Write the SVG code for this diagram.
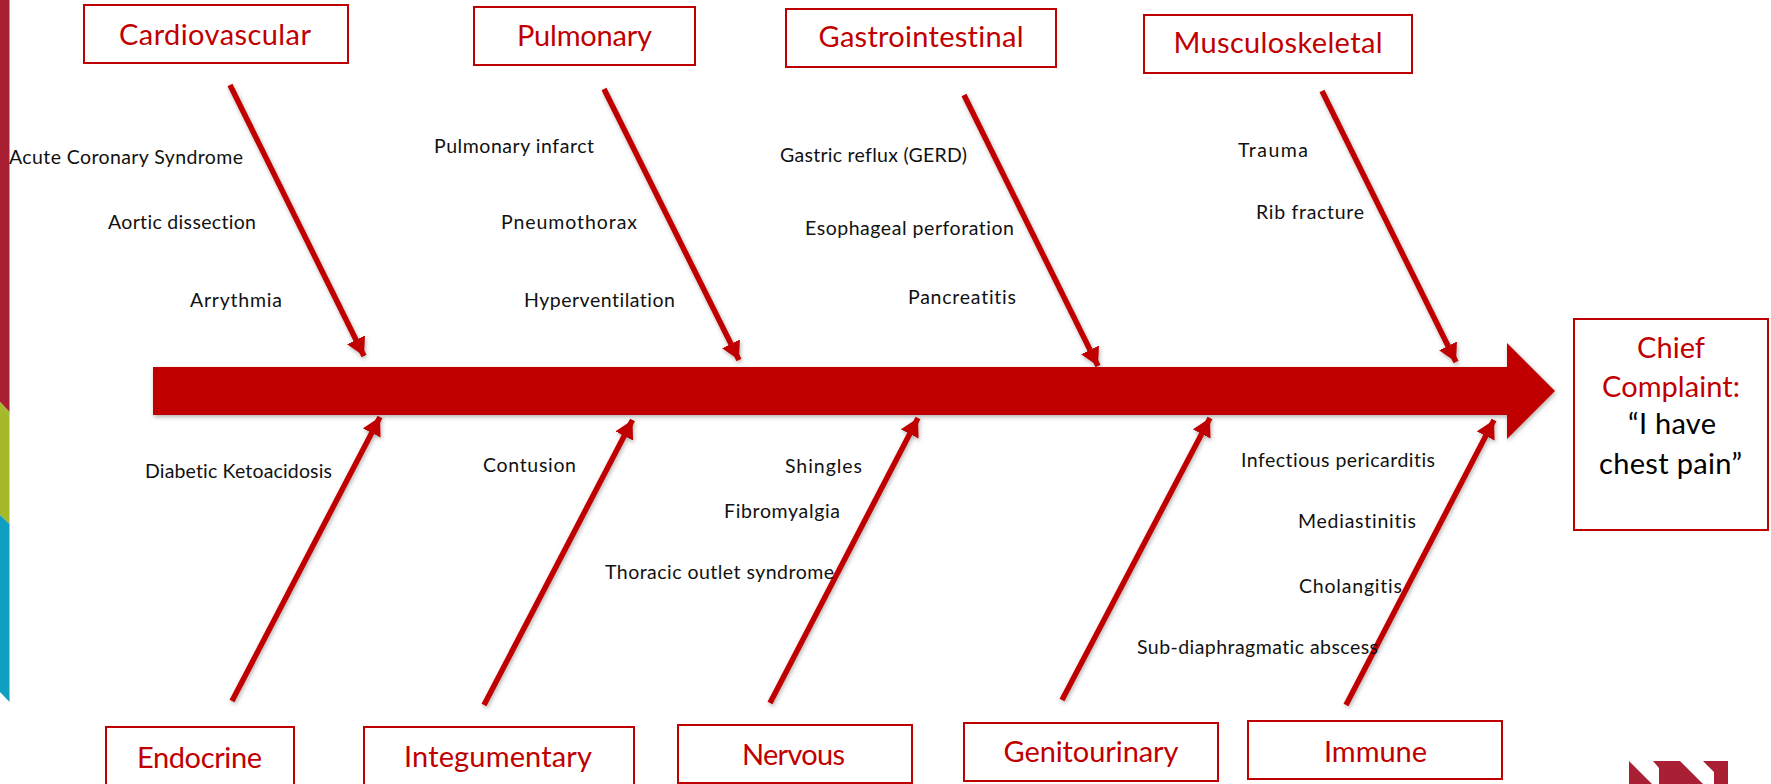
<svg xmlns="http://www.w3.org/2000/svg" width="1771" height="784" viewBox="0 0 1771 784">
<style>
.box{fill:#fff;stroke:#c00000;stroke-width:2}
.h{font-family:"Lato","Liberation Sans",sans-serif;font-size:29px;fill:#c00000;text-anchor:middle;font-variant-ligatures:none}
.b{fill:#000}
.t{font-family:"Lato","Liberation Sans",sans-serif;font-size:19.5px;fill:#111;font-variant-ligatures:none}
.c{stroke:#c00000;stroke-width:5.5;fill:none;marker-end:url(#ah)}
</style>
<defs>
<marker id="ah" markerUnits="userSpaceOnUse" markerWidth="24" markerHeight="24" refX="18" refY="10" orient="auto"><path d="M0 0L18 10L0 20Z" fill="#c00000"/></marker>
<filter id="sh" x="-20%" y="-20%" width="140%" height="140%"><feDropShadow dx="1" dy="2" stdDeviation="2" flood-color="#000" flood-opacity="0.3"/></filter>
</defs>
<g id="sidebar">
<path d="M0 0H9.5V412L0 402Z" fill="#a91f33"/>
<path d="M0 402L9.5 412V524L0 515Z" fill="#a6b92a"/>
<path d="M0 515L9.5 524V702L0 692Z" fill="#0f9fc1"/>
</g>
<g id="logo"><path d="M1629 761L1652 784H1629ZM1653 761H1680L1703 784H1659V768ZM1703 761H1728V784H1714V772Z" fill="#a91f33"/></g>
<g id="connectors" filter="url(#sh)">
<path id="spine" d="M153 367H1507V343L1555 391L1507 439V415H153Z" fill="#c00000"/>
<line class="c" x1="230" y1="85" x2="364" y2="356"/>
<line class="c" x1="604" y1="89" x2="739" y2="360"/>
<line class="c" x1="964" y1="95" x2="1098" y2="366"/>
<line class="c" x1="1322" y1="91" x2="1456" y2="362"/>
<line class="c" x1="232" y1="701" x2="380" y2="417"/>
<line class="c" x1="484" y1="705" x2="632.500" y2="420"/>
<line class="c" x1="770" y1="703" x2="918" y2="418"/>
<line class="c" x1="1062" y1="700" x2="1210" y2="418"/>
<line class="c" x1="1346" y1="705" x2="1494" y2="420"/>
</g>
<g id="n-cardio"><rect class="box" x="84" y="5" width="264" height="58"/><text class="h" x="215" y="45" textLength="192">Cardiovascular</text></g>
<g id="n-pulm"><rect class="box" x="474" y="7" width="221" height="58"/><text class="h" x="584.500" y="46" textLength="135">Pulmonary</text></g>
<g id="n-gastro"><rect class="box" x="786" y="9" width="270" height="58"/><text class="h" x="921" y="47" textLength="205">Gastrointestinal</text></g>
<g id="n-musc"><rect class="box" x="1144" y="15" width="268" height="58"/><text class="h" x="1278" y="53" textLength="209">Musculoskeletal</text></g>
<g id="n-endo"><rect class="box" x="106" y="727" width="188" height="70"/><text class="h" x="199.500" y="768" textLength="125">Endocrine</text></g>
<g id="n-integ"><rect class="box" x="364" y="727" width="270" height="70"/><text class="h" x="498" y="767" textLength="188">Integumentary</text></g>
<g id="n-nerv"><rect class="box" x="678" y="725" width="234" height="58"/><text class="h" x="793.500" y="765" textLength="103">Nervous</text></g>
<g id="n-geni"><rect class="box" x="964" y="723" width="254" height="58"/><text class="h" x="1091" y="762" textLength="175">Genitourinary</text></g>
<g id="n-imm"><rect class="box" x="1248" y="721" width="254" height="58"/><text class="h" x="1375.500" y="762" textLength="103">Immune</text></g>
<g id="n-chief"><rect class="box" x="1574" y="319" width="194" height="211"/>
<text class="h" x="1671" y="358" textLength="68">Chief</text><text class="h" x="1671" y="397" textLength="138">Complaint:</text><text class="h b" x="1672" y="434" textLength="88">“I have</text><text class="h b" x="1670.500" y="474" textLength="143">chest pain”</text></g>
<g id="labels">
<text class="t" x="9" y="164" textLength="234">Acute Coronary Syndrome</text>
<text class="t" x="108" y="229" textLength="148">Aortic dissection</text>
<text class="t" x="190" y="307" textLength="92">Arrythmia</text>
<text class="t" x="434" y="153" textLength="160">Pulmonary infarct</text>
<text class="t" x="501" y="229" textLength="136">Pneumothorax</text>
<text class="t" x="524" y="307" textLength="151">Hyperventilation</text>
<text class="t" x="780" y="162" textLength="187">Gastric reflux (GERD)</text>
<text class="t" x="805" y="235" textLength="209">Esophageal perforation</text>
<text class="t" x="908" y="304" textLength="108">Pancreatitis</text>
<text class="t" x="1238" y="157" textLength="70">Trauma</text>
<text class="t" x="1256" y="219" textLength="108">Rib fracture</text>
<text class="t" x="145" y="478" textLength="187">Diabetic Ketoacidosis</text>
<text class="t" x="483" y="472" textLength="93">Contusion</text>
<text class="t" x="785" y="473" textLength="77">Shingles</text>
<text class="t" x="724" y="518" textLength="116">Fibromyalgia</text>
<text class="t" x="605" y="579" textLength="229">Thoracic outlet syndrome</text>
<text class="t" x="1241" y="467" textLength="194">Infectious pericarditis</text>
<text class="t" x="1298" y="528" textLength="118">Mediastinitis</text>
<text class="t" x="1299" y="593" textLength="103">Cholangitis</text>
<text class="t" x="1137" y="654" textLength="241">Sub-diaphragmatic abscess</text>
</g>
</svg>
